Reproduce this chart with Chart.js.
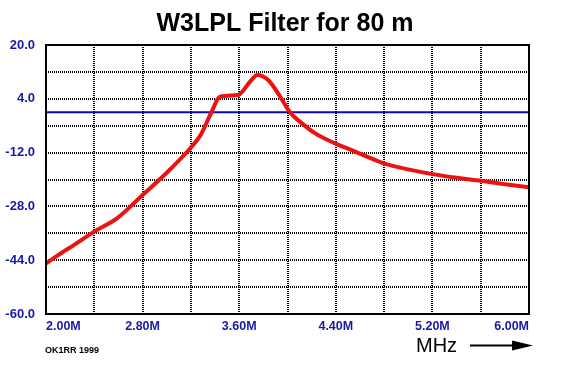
<!DOCTYPE html>
<html>
<head>
<meta charset="utf-8">
<title>W3LPL Filter for 80 m</title>
<script src="https://cdn.jsdelivr.net/npm/chart.js@4.4.0/dist/chart.umd.min.js"></script>
<style>
    html, body { margin: 0; padding: 0; background: #fff; }
    canvas { display: block; }
</style>
</head>
<body>
<canvas id="filterChart" width="561" height="368"></canvas>
<script>
// частоти (МГц) та підсилення (дБ)
const freqs = [2.0, 2.1, 2.23, 2.4, 2.59, 2.8, 3.0, 3.2, 3.28, 3.37, 3.44, 3.59, 3.63, 3.69, 3.75, 3.84, 3.94, 4.02, 4.12, 4.23, 4.39, 4.56, 4.8, 5.0, 5.2, 5.4, 5.6, 5.8, 6.0];
const gain = [-45, -42.5, -39.5, -35.5, -31.5, -24.6, -18, -10.5, -6.8, 0, 4.6, 5.1, 6.3, 9.1, 11.1, 9.6, 4.6, 0, -3.3, -6.3, -9.2, -11.7, -15.2, -17, -18.4, -19.5, -20.4, -21.4, -22.3];

// опорна лінія 0 дБ
const refFreqs = [2.0, 6.0];
const refGain = [0, 0];

const titleText = 'W3LPL Filter for 80 m';
const creditText = 'OK1RR 1999';
const unitText = 'MHz';

const xMin = 2.0, xMax = 6.0, xStep = 0.4;
const yMin = -60, yMax = 20, yStep = 8;

const tickBlue = '#1818a8';

document.addEventListener('DOMContentLoaded', function() {
    const fontFamily = '"Liberation Sans", Arial, sans-serif';
    Chart.defaults.font.family = fontFamily;

    const extras = {
        id: 'extras',
        afterDraw(chart) {
            const ctx = chart.ctx;
            const a = chart.chartArea;
            ctx.save();

            // рамка
            ctx.strokeStyle = '#000';
            ctx.lineWidth = 2;
            ctx.setLineDash([]);
            ctx.strokeRect(a.left, a.top, a.right - a.left, a.bottom - a.top);

            // заголовок
            ctx.fillStyle = '#000';
            ctx.textAlign = 'center';
            ctx.textBaseline = 'alphabetic';
            ctx.font = 'bold 25px ' + fontFamily;
            ctx.fillText(titleText, 285, 31);

            // підпис автора
            ctx.textAlign = 'left';
            ctx.font = 'bold 9px ' + fontFamily;
            ctx.fillText(creditText, 45, 353);

            // одиниці та стрілка
            ctx.font = '20px ' + fontFamily;
            ctx.fillText(unitText, 416, 352);
            ctx.lineWidth = 2;
            ctx.beginPath();
            ctx.moveTo(470, 345.5);
            ctx.lineTo(516, 345.5);
            ctx.stroke();
            ctx.beginPath();
            ctx.moveTo(533, 345.5);
            ctx.lineTo(512, 340.5);
            ctx.lineTo(512, 350.5);
            ctx.closePath();
            ctx.fill();

            ctx.restore();
        }
    };

    const ctx = document.getElementById('filterChart').getContext('2d');
    new Chart(ctx, {
        type: 'line',
        data: {
            datasets: [{
                label: 'Filter',
                data: freqs.map((f, i) => ({ x: f, y: gain[i] })),
                borderColor: '#ee1111',
                borderWidth: 4,
                pointRadius: 0,
                cubicInterpolationMode: 'monotone',
                fill: false,
                order: 1
            }, {
                label: '0 dB',
                data: refFreqs.map((f, i) => ({ x: f, y: refGain[i] })),
                borderColor: '#0a0ab4',
                borderWidth: 2,
                pointRadius: 0,
                fill: false,
                order: 2
            }]
        },
        options: {
            responsive: false,
            animation: false,
            layout: { padding: { top: 45, right: 32, left: 0, bottom: 0 } },
            plugins: {
                legend: { display: false },
                title: { display: false },
                tooltip: { enabled: false }
            },
            scales: {
                x: {
                    type: 'linear',
                    min: xMin,
                    max: xMax,
                    afterFit: s => { s.height = 54; },
                    grid: { color: '#000', lineWidth: 2, drawTicks: false },
                    border: { display: false, dash: [1, 1] },
                    ticks: {
                        stepSize: xStep,
                        autoSkip: false,
                        maxRotation: 0,
                        align: 'inner',
                        padding: 5,
                        color: tickBlue,
                        font: { size: 12.5, weight: 'bold' },
                        callback: (v, i) => (i % 2 === 0 ? v.toFixed(2) + 'M' : '')
                    }
                },
                y: {
                    min: yMin,
                    max: yMax,
                    afterFit: s => { s.width = 46; },
                    grid: { color: '#000', lineWidth: 2, drawTicks: false },
                    border: { display: false, dash: [1, 1] },
                    ticks: {
                        stepSize: yStep,
                        autoSkip: false,
                        padding: 11,
                        color: tickBlue,
                        font: { size: 13, weight: 'bold' },
                        callback: v => ((Math.round(v) - yMin) % 16 === 0 ? v.toFixed(1) : '')
                    }
                }
            }
        },
        plugins: [extras]
    });
});
</script>
</body>
</html>
